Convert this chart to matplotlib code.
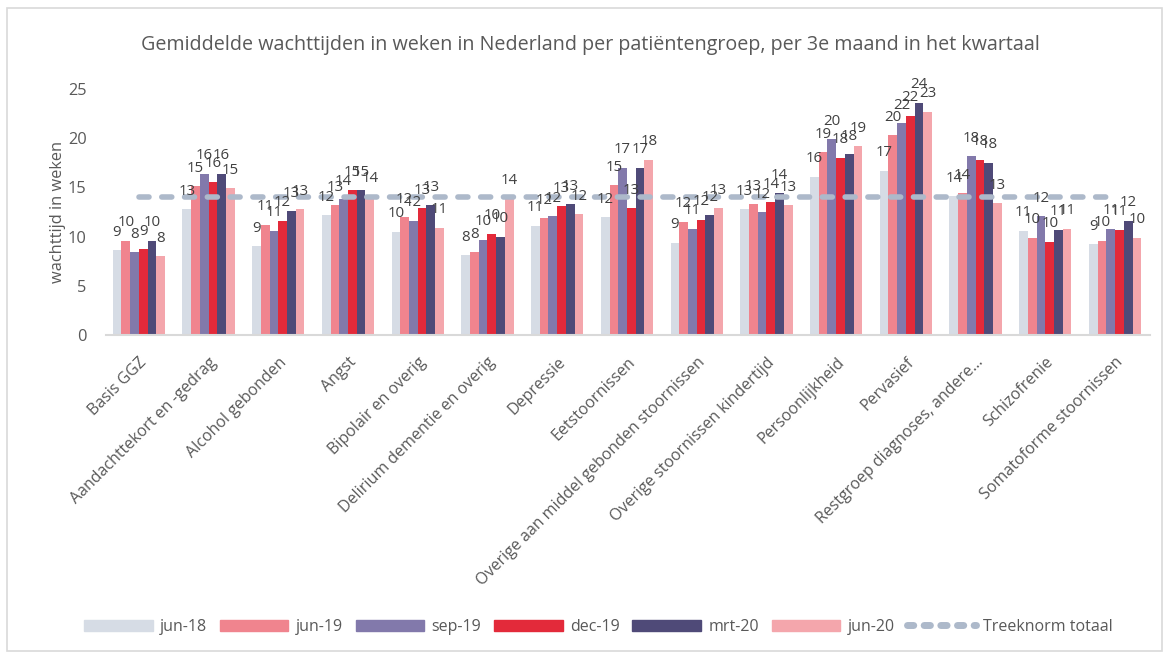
import matplotlib.pyplot as plt
import numpy as np
from matplotlib.patches import Patch, Rectangle
from matplotlib.lines import Line2D

plt.rcParams['font.family'] = ['Open Sans', 'DejaVu Sans']

categories = ['Basis GGZ', 'Aandachttekort en -gedrag', 'Alcohol gebonden', 'Angst',
              'Bipolair en overig', 'Delirium dementie en overig', 'Depressie',
              'Eetstoornissen', 'Overige aan middel gebonden stoornissen',
              'Overige stoornissen kindertijd', 'Persoonlijkheid', 'Pervasief',
              'Restgroep diagnoses, andere…', 'Schizofrenie', 'Somatoforme stoornissen']

jun18 = [8.6, 12.8, 9.0, 12.2, 10.5, 8.1, 11.1, 12.0, 9.4, 12.8, 16.1, 16.7, 14.1, 10.6, 9.2]
jun19 = [9.6, 15.1, 11.2, 13.2, 12.0, 8.4, 11.9, 15.2, 11.5, 13.3, 18.6, 20.3, 14.4, 9.9, 9.6]
sep19 = [8.4, 16.4, 10.6, 13.8, 11.6, 9.7, 12.1, 17.0, 10.8, 12.5, 19.9, 21.5, 18.2, 12.1, 10.8]
dec19 = [8.7, 15.6, 11.6, 14.7, 12.9, 10.3, 13.1, 12.9, 11.7, 13.5, 18.0, 22.3, 17.8, 9.5, 10.7]
mrt20 = [9.6, 16.4, 12.6, 14.7, 13.2, 10.0, 13.3, 17.0, 12.2, 14.4, 18.4, 23.6, 17.5, 10.7, 11.6]
jun20 = [8.0, 14.9, 12.8, 14.1, 10.9, 13.9, 12.3, 17.8, 12.9, 13.2, 19.2, 22.7, 13.4, 10.8, 9.9]
treeknorm = [14.0] * len(categories)

series = [('jun-18', jun18), ('jun-19', jun19), ('sep-19', sep19),
          ('dec-19', dec19), ('mrt-20', mrt20), ('jun-20', jun20)]
colors = ['#D6DCE5', '#F0848E', '#8279AB', '#E32A3A', '#4F4A78', '#F4A6AC']

fig = plt.figure(figsize=(11.69, 6.56), dpi=100)
ax = fig.add_axes([0.0907, 0.4893, 0.8930, 0.375])

x = np.arange(len(categories))
w = 0.125
for k, (name, vals) in enumerate(series):
    pos = x + (k - 2.5) * w
    ax.bar(pos, vals, width=w, color=colors[k], zorder=2)
    # data labels above each bar
    for p, v in zip(pos, vals):
        ax.annotate(str(int(round(v))), (p, v), xytext=(0, 7.5), textcoords='offset points',
                    ha='center', va='bottom', fontsize=10.8, color='#404040', zorder=5)

ax.plot(x, treeknorm, color='#ADB9CA', lw=4, dashes=(1.8, 2.3),
        dash_capstyle='round', zorder=3)

ax.set_xlim(-0.47, 14.5)
ax.set_ylim(0, 25)
ax.set_yticks([0, 5, 10, 15, 20, 25])
ax.set_xticks(x)
ax.set_xticklabels(categories, rotation=45, ha='right', rotation_mode='anchor',
                   fontsize=11.5, color='#595959')
ax.tick_params(axis='x', length=0, pad=14)
ax.tick_params(axis='y', length=0, pad=14, labelsize=11.8, labelcolor='#595959')
for s in ['top', 'right', 'left']:
    ax.spines[s].set_visible(False)
ax.spines['bottom'].set_color('#D9D9D9')
ax.spines['bottom'].set_linewidth(1.5)
ax.set_ylabel('wachttijd in weken', fontsize=11.8, color='#595959', labelpad=1)

fig.text(0.505, 0.932, 'Gemiddelde wachttijden in weken in Nederland per patiëntengroep, per 3e maand in het kwartaal',
         ha='center', va='center', fontsize=14.2, color='#595959')

handles = [Patch(color=c) for c in colors]
handles.append(Line2D([0], [0], color='#ADB9CA', lw=5, dashes=(0.9, 1.5), dash_capstyle='round'))
labels = [s[0] for s in series] + ['Treeknorm totaal']
fig.legend(handles, labels, loc='center', bbox_to_anchor=(0.512, 0.044), ncol=7,
           frameon=False, fontsize=11.5, handlelength=4.3, handleheight=0.75,
           columnspacing=0.8, handletextpad=0.45, labelcolor='#595959')

fig.add_artist(Rectangle((0.006, 0.008), 0.988, 0.98, transform=fig.transFigure,
                         fill=False, edgecolor='#D9D9D9', lw=1.2))

fig.savefig('out.png', dpi=100)
